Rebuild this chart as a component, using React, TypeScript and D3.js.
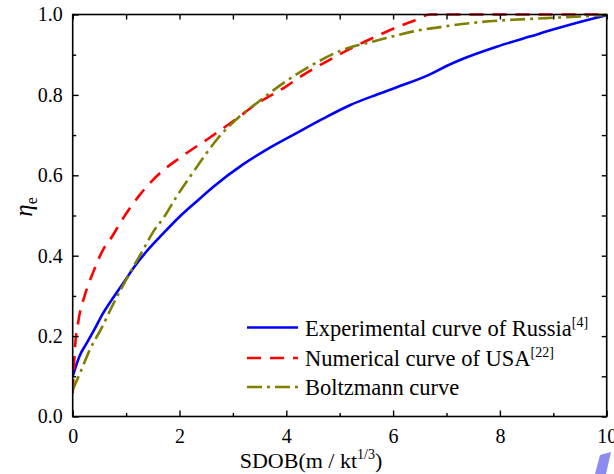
// efficiency curve plot drawn with d3
import React, { useEffect, useRef } from 'react';
import * as d3 from 'd3';

// experimental curve of Russia
const russiaX = [0, 0.137, 0.26, 0.42, 0.57, 0.7, 0.948, 1.135, 1.385, 1.7, 2.01, 2.32, 2.63, 3.19, 3.63, 4.19, 4.69, 5.2, 5.7, 6.07, 6.69, 7.0, 7.31, 7.94, 8.56, 9.06, 9.75, 10];
const russiaY = [0.1, 0.153, 0.182, 0.22, 0.257, 0.284, 0.332, 0.369, 0.411, 0.456, 0.498, 0.535, 0.571, 0.627, 0.664, 0.705, 0.741, 0.775, 0.801, 0.819, 0.851, 0.872, 0.89, 0.92, 0.945, 0.965, 0.99, 0.998];

// numerical curve of USA
const usaX = [0, 0.04, 0.1, 0.23, 0.39, 0.57, 0.7, 0.948, 1.26, 1.64, 2.01, 2.57, 3.07, 3.45, 3.95, 4.32, 4.82, 5.2, 5.69, 6.1, 6.38, 6.7, 8, 10];
const usaY = [0.058, 0.166, 0.232, 0.303, 0.361, 0.415, 0.44, 0.494, 0.552, 0.606, 0.644, 0.694, 0.741, 0.778, 0.817, 0.85, 0.888, 0.915, 0.946, 0.97, 0.984, 1.0, 1.0, 1.0];

// Boltzmann curve
const boltzX = [0, 0.137, 0.32, 0.54, 0.76, 1.07, 1.32, 1.51, 1.7, 1.95, 2.2, 2.51, 2.7, 3.13, 3.45, 3.95, 4.44, 5.0, 5.75, 6.38, 7.0, 7.62, 8.25, 8.87, 9.5, 10];
const boltzY = [0.066, 0.108, 0.166, 0.22, 0.28, 0.357, 0.415, 0.46, 0.494, 0.548, 0.597, 0.656, 0.689, 0.747, 0.78, 0.83, 0.871, 0.909, 0.937, 0.958, 0.971, 0.981, 0.987, 0.991, 0.995, 0.999];

const xMajor = [0, 2, 4, 6, 8, 10];
const xMinor = [1, 3, 5, 7, 9];
const yMajor = [0, 0.2, 0.4, 0.6, 0.8, 1.0];
const yMinor = [0.1, 0.3, 0.5, 0.7, 0.9];

const seriesNames = ['Experimental curve of Russia', 'Numerical curve of USA', 'Boltzmann curve'];
const seriesRefs = ['[4]', '[22]', ''];

const App = () => {
    const plot = useRef<SVGSVGElement>(null);

    useEffect(() => {
        const width = 614, height = 474;
        const left = 72.7, right = 606.7, top = 14.5, bottom = 416.5;
        const font = "'Liberation Serif', 'Times New Roman', Times, serif";

        const svg = d3.select(plot.current);
        svg.selectAll('*').remove();
        svg.attr('width', width).attr('height', height)
            .style('position', 'absolute').style('left', '0px').style('top', '0px')
            .style('background', '#fff')
            .attr('font-family', font);

        const x = d3.scaleLinear().domain([0, 10]).range([left, right]);
        const y = d3.scaleLinear().domain([0, 1]).range([bottom, top]);

        const series = [
            { xs: russiaX, ys: russiaY, color: '#0000ff', dash: null },
            { xs: usaX, ys: usaY, color: '#ff0000', dash: '14,9' },
            { xs: boltzX, ys: boltzY, color: '#808000', dash: '15,5,3,5' },
        ];

        //curves, clipped to the frame
        svg.append('clipPath').attr('id', 'frame')
            .append('rect').attr('x', left).attr('y', top - 1.5)
            .attr('width', right - left + 1.5).attr('height', bottom - top + 1.5);

        const line = d3.line<number>()
            .curve(d3.curveMonotoneX);

        const curves = svg.append('g').attr('clip-path', 'url(#frame)');
        series.forEach(s => {
            const ln = line.x((_, i) => x(s.xs[i])).y(d => y(d));
            curves.append('path')
                .attr('d', ln(s.ys))
                .attr('fill', 'none')
                .attr('stroke', s.color)
                .attr('stroke-width', 2.6)
                .attr('stroke-dasharray', s.dash)
        });

        //axes, ticks pointing inward
        const axisStyle = (g) => {
            g.attr('font-family', font);
            g.select('.domain').remove();
            g.selectAll('line').attr('stroke', '#000').attr('stroke-width', 1.4);
            g.selectAll('text').attr('fill', '#000').style('font-family', font).style('font-size', '20px');
        };

        svg.append('g').attr('transform', `translate(0,${bottom})`)
            .call(d3.axisBottom(x).tickValues(xMajor).tickSize(-6).tickPadding(12).tickFormat(d3.format('d')))
            .call(axisStyle);
        svg.append('g').attr('transform', `translate(0,${bottom})`)
            .call(d3.axisBottom(x).tickValues(xMinor).tickSize(-3.5).tickFormat(() => ''))
            .call(axisStyle);
        svg.append('g').attr('transform', `translate(0,${top})`)
            .call(d3.axisTop(x).tickValues(xMajor.concat(xMinor)).tickSize(-5).tickFormat(() => ''))
            .call(axisStyle);

        svg.append('g').attr('transform', `translate(${left},0)`)
            .call(d3.axisLeft(y).tickValues(yMajor).tickSize(-6).tickPadding(10).tickFormat(d3.format('.1f')))
            .call(axisStyle);
        svg.append('g').attr('transform', `translate(${left},0)`)
            .call(d3.axisLeft(y).tickValues(yMinor).tickSize(-3.5).tickFormat(() => ''))
            .call(axisStyle);
        svg.append('g').attr('transform', `translate(${right},0)`)
            .call(d3.axisRight(y).tickValues(yMajor.concat(yMinor)).tickSize(-5).tickFormat(() => ''))
            .call(axisStyle);

        //frame
        svg.append('rect')
            .attr('x', left).attr('y', top)
            .attr('width', right - left).attr('height', bottom - top)
            .attr('fill', 'none').attr('stroke', '#000').attr('stroke-width', 1.6);

        //x axis label
        const xl = svg.append('text')
            .attr('x', 311).attr('y', 468)
            .attr('text-anchor', 'middle')
            .style('font-family', font).style('font-size', '22px');
        xl.append('tspan').text('SDOB(m / kt');
        xl.append('tspan').attr('dy', -9).style('font-size', '14px').text('1/3');
        xl.append('tspan').attr('dy', 9).text(')');

        //y axis label
        const yl = svg.append('text')
            .attr('transform', 'translate(32,207) rotate(-90)')
            .attr('text-anchor', 'middle')
            .style('font-family', font).style('font-size', '25px');
        yl.append('tspan').style('font-style', 'italic').text('η');
        yl.append('tspan').attr('dy', 5).style('font-size', '16px').text('e');

        //legend
        const legY = [327.5, 358, 387];
        series.forEach((s, i) => {
            svg.append('line')
                .attr('x1', 247).attr('x2', 298)
                .attr('y1', legY[i]).attr('y2', legY[i])
                .attr('stroke', s.color).attr('stroke-width', 2.6)
                .attr('stroke-dasharray', s.dash);
            const t = svg.append('text')
                .attr('x', 305).attr('y', legY[i] + 8)
                .style('font-family', font).style('font-size', '22.5px');
            t.append('tspan').text(seriesNames[i]);
            if (seriesRefs[i]) {
                t.append('tspan').attr('dy', -9).style('font-size', '14px').text(seriesRefs[i]);
            }
        });

        //small mark at the bottom right corner
        svg.append('path')
            .attr('d', 'M600,455 L611,452 L606,474 L595,474 Z')
            .attr('fill', '#8c8cf0');
    }, []);

    return (
        <div>
            <svg ref={plot}></svg>
        </div>
    );
}

export default App;
